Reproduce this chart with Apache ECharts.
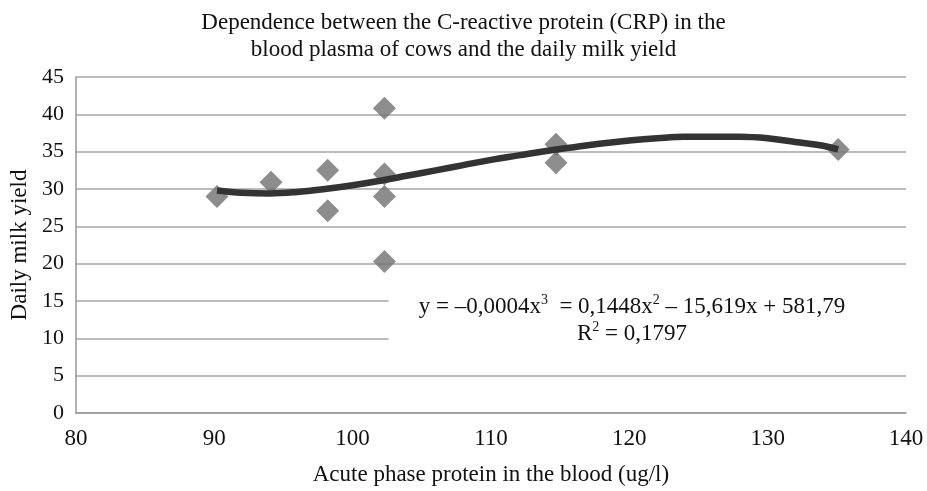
<!DOCTYPE html>
<html>
<head>
<meta charset="utf-8">
<script src="https://cdn.jsdelivr.net/npm/echarts@6/dist/echarts.min.js"></script>
<style>
  html, body { margin: 0; padding: 0; background: #fff; }
  #chart { width: 927px; height: 491px; }
</style>
</head>
<body>
<div id="chart"></div>
<script>
// measured points: [protein, milk yield]
const samples = [
  [90.2, 29.0], [94.1, 30.9], [98.2, 32.5], [98.2, 27.1],
  [102.3, 40.8], [102.3, 32.0], [102.3, 29.0], [102.3, 20.3],
  [114.7, 36.0], [114.7, 33.5], [135.1, 35.3]
];
// trend line
const trendX = [90.2, 92, 94, 96, 98, 100, 102, 104, 106, 108, 110, 112, 114, 116, 118, 120, 122, 124, 126, 128, 130, 132, 134, 135.1];
const trendY = [29.8, 29.5, 29.4, 29.6, 30.0, 30.5, 31.1, 31.8, 32.5, 33.2, 33.9, 34.5, 35.1, 35.6, 36.1, 36.5, 36.8, 37.0, 37.0, 37.0, 36.8, 36.3, 35.8, 35.3];
// equation text, {s|..} = superscript
const eqText = 'y = –0,0004x{s|3}  = 0,1448x{s|2} – 15,619x + 581,79\nR{s|2} = 0,1797';

const font = '"Liberation Serif", "DejaVu Serif", serif';
const chart = echarts.init(document.getElementById('chart'));

chart.setOption({
  animation: false,
  backgroundColor: '#fff',
  title: {
    text: 'Dependence between the C-reactive protein (CRP) in the\nblood plasma of cows and the daily milk yield',
    left: 'center',
    top: 4,
    textStyle: { fontFamily: font, fontSize: 23, fontWeight: 'normal', color: '#111', lineHeight: 27 }
  },
  grid: { left: 75, right: 21, top: 77, bottom: 76 },
  xAxis: {
    type: 'value', min: 80, max: 140, interval: 10,
    name: 'Acute phase protein in the blood (ug/l)',
    nameLocation: 'middle', nameGap: 50,
    nameTextStyle: { fontFamily: font, fontSize: 23, color: '#111' },
    axisLine: { show: true, lineStyle: { color: '#999', width: 1.5 } },
    axisTick: { show: false },
    splitLine: { show: false },
    axisLabel: { fontFamily: font, fontSize: 23, color: '#111', margin: 14 }
  },
  yAxis: {
    type: 'value', min: 0, max: 45, interval: 5,
    name: 'Daily milk yield',
    nameLocation: 'middle', nameGap: 37,
    nameTextStyle: { fontFamily: font, fontSize: 23, color: '#111' },
    axisLine: { show: true, lineStyle: { color: '#999', width: 1.5 } },
    axisTick: { show: false },
    splitLine: { lineStyle: { color: '#a6a6a6', width: 1.5 } },
    axisLabel: { fontFamily: font, fontSize: 22, color: '#111', margin: 12 }
  },
  series: [
    {
      type: 'scatter',
      symbol: 'diamond',
      symbolSize: 23,
      itemStyle: { color: '#707070' },
      data: samples,
      z: 2
    },
    {
      type: 'line',
      smooth: 0.4,
      symbol: 'none',
      lineStyle: { color: '#333', width: 6.5 },
      data: trendX.map((x, i) => [x, trendY[i]]),
      z: 3,
      markArea: {
        silent: true,
        itemStyle: { color: '#fff' },
        data: [[{ coord: [102.6, 19.4] }, { coord: [140, 7.2] }]]
      }
    }
  ],
  graphic: [
    {
      type: 'text',
      x: 632,
      y: 293,
      z: 10,
      style: {
        text: eqText,
        align: 'center',
        verticalAlign: 'top',
        fontFamily: font,
        fontSize: 23,
        lineHeight: 27,
        fill: '#111',
        rich: {
          s: { fontFamily: font, fontSize: 14, lineHeight: 12, verticalAlign: 'top', fill: '#111' }
        }
      }
    }
  ]
});
</script>
</body>
</html>
